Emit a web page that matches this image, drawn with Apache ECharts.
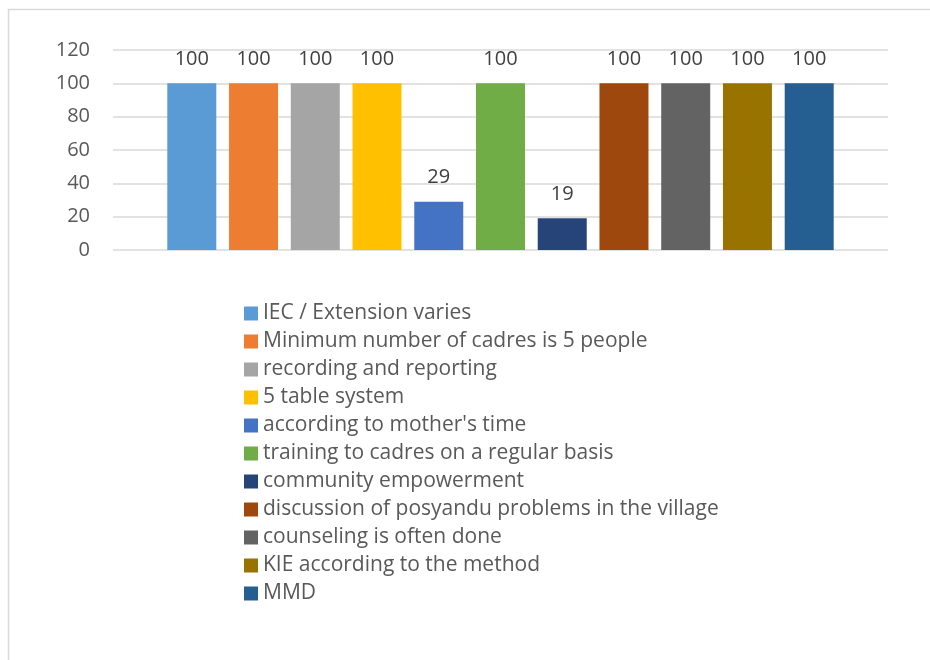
<!DOCTYPE html>
<html>
<head>
<meta charset="utf-8">
<script src="https://cdn.jsdelivr.net/npm/echarts@6/dist/echarts.min.js"></script>
<style>
  html, body { margin: 0; padding: 0; background: #fff; }
  #chart { width: 930px; height: 660px; }
</style>
</head>
<body>
<div id="chart"></div>
<script>
// Posyandu activity indicators, one series per indicator
const seriesNames = [
  'IEC / Extension varies',
  'Minimum number of cadres is 5 people',
  'recording and reporting',
  '5 table system',
  "according to mother's time",
  'training to cadres on a regular basis',
  'community empowerment',
  'discussion of posyandu problems in the village',
  'counseling is often done',
  'KIE according to the method',
  'MMD'
];
const seriesValues = [100, 100, 100, 100, 29, 100, 19, 100, 100, 100, 100];
const seriesColors = ['#5B9BD5', '#ED7D31', '#A5A5A5', '#FFC000', '#4472C4', '#70AD47',
                      '#264478', '#9E480E', '#636363', '#997300', '#255E91'];
const categories = [''];
const yTicks = { min: 0, max: 120, interval: 20 };

const FONT = '"Open Sans", Lato, sans-serif';

const chart = echarts.init(document.getElementById('chart'));

const series = seriesNames.map((name, i) => ({
  name: name,
  type: 'bar',
  data: [seriesValues[i]],
  barWidth: 49,
  barGap: '26%',
  itemStyle: { color: seriesColors[i] },
  label: {
    show: true,
    position: 'top',
    distance: 14,
    color: '#404040',
    fontFamily: FONT,
    fontSize: 20
  }
}));

chart.setOption({
  animation: false,
  backgroundColor: '#ffffff',
  graphic: [{
    type: 'rect',
    shape: { x: 8.5, y: 9.5, width: 960, height: 700 },
    style: { fill: 'none', stroke: '#D9D9D9', lineWidth: 1.5 },
    silent: true
  }],
  grid: { left: 113, right: 42, top: 50, bottom: 410, containLabel: false },
  xAxis: {
    type: 'category',
    data: categories,
    axisLine: { show: false },
    axisTick: { show: false },
    axisLabel: { show: false }
  },
  yAxis: {
    type: 'value',
    min: yTicks.min,
    max: yTicks.max,
    interval: yTicks.interval,
    axisLine: { show: false },
    axisTick: { show: false },
    axisLabel: { color: '#595959', fontFamily: FONT, fontSize: 20, margin: 23 },
    splitLine: { lineStyle: { color: '#D9D9D9', width: 1.5 } }
  },
  legend: {
    orient: 'vertical',
    left: 239,
    top: 298,
    itemWidth: 14,
    itemHeight: 14,
    itemGap: 7,
    icon: 'rect',
    textStyle: { color: '#595959', fontFamily: FONT, fontSize: 21 },
    data: seriesNames
  },
  series: series
});
</script>
</body>
</html>
